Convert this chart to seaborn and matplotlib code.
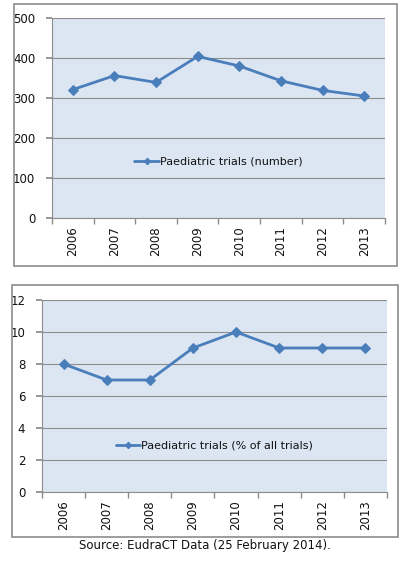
import matplotlib
matplotlib.use("Agg")
import matplotlib.pyplot as plt
from matplotlib.patches import Rectangle
import pandas as pd
import seaborn as sns

years = ["2006", "2007", "2008", "2009", "2010", "2011", "2012", "2013"]
trials_number = [321, 356, 339, 404, 380, 343, 319, 305]
trials_percent = [8, 7, 7, 9, 10, 9, 9, 9]

LINE = "#4a7ebb"
BG = "#dce6f2"
GRID = "#8c8c8c"
BORDER = "#8c8c8c"

sns.set_theme(style="white")
plt.rcParams["font.family"] = ["DejaVu Sans"]

fig = plt.figure(figsize=(4.12, 5.62), dpi=100)
W, H = 412, 562


def px_axes(left, top, right, bottom):
    return fig.add_axes([left / W, 1 - bottom / H, (right - left) / W, (bottom - top) / H])


def px_border(left, top, right, bottom):
    fig.patches.append(Rectangle((left / W, 1 - bottom / H), (right - left) / W, (bottom - top) / H,
                                 transform=fig.transFigure, fill=False, edgecolor=BORDER, lw=1.2))


def draw_chart(ax, values, label, ymax, step, legend_y):
    df = pd.DataFrame({"x": range(len(years)), "value": values})
    ax.set_facecolor(BG)
    sns.lineplot(data=df, x="x", y="value", ax=ax, color=LINE, lw=2.0, marker="D",
                 markersize=5.5, markeredgecolor=LINE, label=label)
    ax.set_xlim(-0.5, len(years) - 0.5)
    ax.set_ylim(0, ymax)
    ax.set_yticks(range(0, ymax + 1, step))
    ax.yaxis.grid(True, color=GRID, lw=0.8)
    ax.set_axisbelow(True)
    ax.set_xticks(range(len(years)))
    ax.set_xticklabels(years, rotation=90)
    ax.set_xticks([i - 0.5 for i in range(len(years) + 1)], minor=True)
    ax.tick_params(axis="x", which="major", length=0, pad=6, labelsize=8.5, labelcolor="#111111")
    ax.tick_params(axis="x", which="minor", length=4, color=GRID, bottom=True)
    ax.tick_params(axis="y", length=4, color=GRID, left=True, pad=8, labelsize=8.5, labelcolor="#111111")
    ax.set_xlabel("")
    ax.set_ylabel("")
    for side in ["top", "right"]:
        ax.spines[side].set_visible(False)
    for side in ["left", "bottom"]:
        ax.spines[side].set_color(GRID)
        ax.spines[side].set_linewidth(0.8)
    leg = ax.legend(loc="center", bbox_to_anchor=(0.5, legend_y), frameon=False, fontsize=8,
                    handlelength=2.2, handletextpad=0.1, markerscale=0.6)
    for t in leg.get_texts():
        t.set_color("#111111")


px_border(14, 4, 397, 266)
ax1 = px_axes(52, 18, 385, 218)
draw_chart(ax1, trials_number, "Paediatric trials (number)", 500, 100, 0.28)

px_border(12, 285, 398, 537)
ax2 = px_axes(42, 300, 387, 492)
draw_chart(ax2, trials_percent, "Paediatric trials (% of all trials)", 12, 2, 0.24)

fig.text(205 / W, 1 - 545 / H, "Source: EudraCT Data (25 February 2014).", ha="center", va="center",
         fontsize=8.5, color="#111111")

fig.savefig("out.png", dpi=100, facecolor="white")
